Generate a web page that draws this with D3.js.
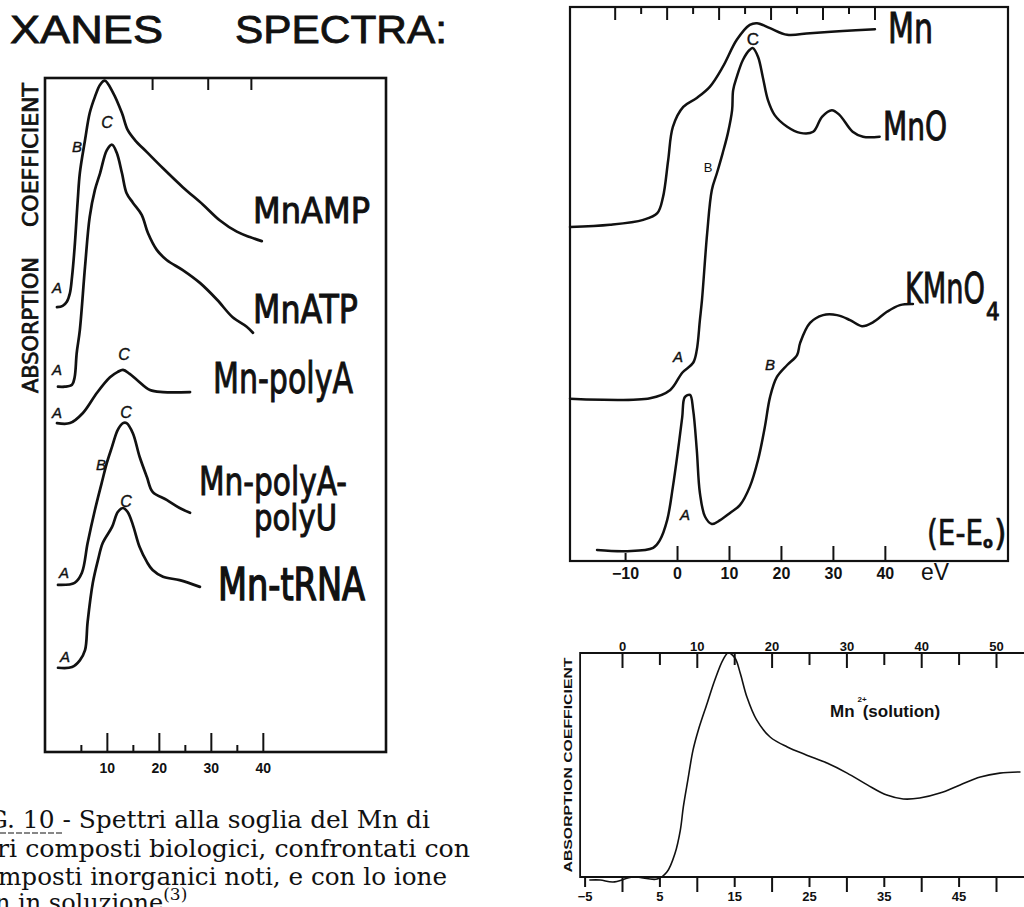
<!DOCTYPE html>
<html>
<head>
<meta charset="utf-8">
<script src="https://cdn.jsdelivr.net/npm/d3@7"></script>
<style>
  body { margin: 0; background: #fff; }
  svg { display: block; }
</style>
</head>
<body>
<svg id="chart" width="1024" height="907"></svg>
<script>
// ---- data: [energy (eV), absorption (arb. units)] ----

// left panel, biological compounds
const mnAMP = [[0.4,66.0],[1.5,66.2],[2.3,66.8],[2.9,68.1],[3.3,70.5],[3.8,74.9],[4.4,81.9],[4.8,85.9],[5.8,90.8],[6.7,94.8],[7.7,97.2],[8.7,99.0],[9.6,99.6],[11.2,97.8],[12.9,94.8],[14.0,92.3],[15.4,90.8],[17.7,89.0],[20.8,86.6],[24.6,83.8],[28.5,81.2],[31.7,78.9],[35.0,77.2],[37.5,76.4],[39.8,75.8]];
const mnATP = [[0.6,54.2],[1.9,54.2],[3.3,54.5],[3.8,55.6],[4.2,59.2],[4.8,62.6],[5.8,72.0],[6.7,79.4],[7.7,83.4],[8.7,85.9],[10.0,89.3],[11.0,90.1],[11.9,88.9],[12.9,85.9],[13.8,82.9],[15.0,81.5],[16.7,79.7],[17.9,77.0],[19.6,74.5],[21.5,73.0],[24.6,71.5],[27.9,69.6],[31.2,67.1],[34.2,64.5],[36.9,63.1],[38.1,62.2]];
const mnPolyA = [[0.4,48.8],[2.9,48.8],[5.4,50.3],[8.1,53.3],[10.6,55.6],[12.1,56.4],[13.1,56.7],[14.4,56.1],[15.8,55.2],[18.3,53.7],[20.8,53.4],[26.0,53.4]];
const mnPolyAU = [[0.6,24.8],[3.8,25.1],[5.2,26.6],[6.3,31.0],[7.7,35.9],[9.0,39.9],[10.0,42.9],[11.0,45.3],[12.1,47.8],[13.1,48.8],[13.8,48.8],[15.0,47.3],[16.3,43.8],[17.7,40.8],[18.8,38.6],[21.5,37.4],[24.0,36.2],[26.0,35.5]];
const mnTRNA = [[0.6,12.5],[3.3,12.6],[4.8,13.6],[5.8,15.1],[6.3,19.3],[7.3,25.1],[8.3,28.5],[9.2,31.0],[11.0,33.4],[12.1,35.6],[13.1,36.2],[14.0,35.6],[15.0,33.7],[16.3,30.4],[17.7,28.2],[18.8,27.0],[20.8,26.0],[24.0,25.5],[27.9,24.5]];
const leftMajor = [10, 20, 30, 40];
const leftMinor = [5, 15, 25, 35];
const leftTop = [18.7, 29.4, 37.7];

// upper right panel, inorganic references
const mnMetal = [[-20.6,60.1],[-12.9,60.5],[-6.5,61.4],[-3.8,62.6],[-2.7,65.5],[-1.7,72.2],[-0.8,78.2],[1.2,81.8],[3.8,83.4],[6.3,85.4],[8.8,89.0],[11.5,93.9],[14.0,96.6],[15.4,96.9],[17.9,96.0],[21.2,94.8],[25.6,95.1],[31.9,95.5],[38.1,95.8]];
const mnO = [[-20.6,29.1],[-5.2,29.2],[-1.3,30.7],[1.0,33.8],[3.1,35.6],[3.8,37.9],[4.4,43.3],[4.8,46.9],[5.8,59.0],[6.7,66.8],[7.7,69.9],[8.8,73.5],[9.8,77.1],[10.6,81.2],[10.8,84.8],[11.5,87.2],[12.7,90.3],[14.0,92.1],[14.6,92.4],[15.6,90.8],[16.5,87.2],[17.5,83.0],[18.8,80.3],[21.2,78.2],[23.7,77.1],[26.2,77.3],[27.9,80.0],[29.8,81.2],[31.3,80.3],[33.8,77.3],[35.8,76.4],[39.0,76.4]];
const kMnO4 = [[-15.4,1.8],[-9.6,1.6],[-4.6,2.2],[-3.3,3.6],[-1.9,7.2],[-0.8,13.2],[0.2,19.9],[1.0,25.8],[1.5,29.4],[2.5,29.8],[3.1,27.1],[3.8,19.9],[4.4,12.1],[5.4,7.8],[6.7,6.5],[8.3,7.2],[10.2,8.5],[12.1,9.9],[14.0,13.2],[15.6,18.1],[16.9,24.0],[17.9,29.4],[19.2,33.0],[21.2,35.2],[23.1,37.0],[23.7,39.2],[25.6,42.8],[28.1,44.2],[30.8,44.2],[33.3,43.3],[35.6,42.2],[37.7,42.9],[40.4,44.8],[42.9,46.0],[45.4,46.2]];
const refMajor = [-10, 0, 10, 20, 30, 40];
const refTopMajor = [-12, -2, 8, 18, 28, 38];
const refTopMinor = [-7, 3, 13, 23, 33];

// lower right panel, Mn2+ in solution
const mnSolution = [[-4.3,0],[-2.9,0],[-1.2,-0.9],[1.5,1.3],[4.7,0.4],[6.0,3.5],[7.1,11.9],[7.8,22.0],[8.2,32.2],[8.8,44.0],[9.5,57.3],[10.2,66.0],[11.4,78.0],[12.4,88.0],[13.5,97.0],[14.2,100],[15.1,97.8],[15.8,91.2],[16.7,80.6],[18.0,70.5],[19.8,63.0],[22.1,58.6],[24.7,55.0],[27.4,51.5],[30.1,47.1],[32.8,41.9],[35.4,37.4],[37.6,35.7],[39.8,36.1],[42.5,38.3],[45.2,41.9],[47.9,45.4],[50.5,47.1],[53.2,47.6]];
const solTopMajor = [0, 10, 20, 30, 40, 50];
const solTopMinor = [5, 15, 25, 35, 45];
const solBottomLabels = [-5, 5, 15, 25, 35, 45];

const captionLines = [
  "G. 10 - Spettri alla soglia del Mn di",
  "ri composti biologici, confrontati con",
  "mposti inorganici noti, e con lo ione"
];

// ---- drawing ----
const INK = "#111";
const NARROW = "'Liberation Sans Narrow','DejaVu Sans Condensed','Liberation Sans',sans-serif";
const SANS = "'Liberation Sans','DejaVu Sans',sans-serif";
const SERIF = "'DejaVu Serif','Liberation Serif',serif";

const svg = d3.select("#chart");

function txt(x, y, s, size, opts = {}) {
  const t = svg.append("text")
    .attr("x", x).attr("y", y)
    .attr("font-family", opts.family || SANS)
    .attr("font-size", size)
    .attr("font-weight", opts.weight || "normal")
    .attr("font-style", opts.style || "normal")
    .attr("text-anchor", opts.anchor || "start")
    .attr("fill", INK)
    .text(s);
  if (opts.len) t.attr("textLength", opts.len).attr("lengthAdjust", "spacingAndGlyphs");
  if (opts.rotate) t.attr("transform", `rotate(${opts.rotate},${x},${y})`);
  if (opts.thick) t.attr("stroke", INK).attr("stroke-width", opts.thick);
  return t;
}

function drawAxis(g, fontSize) {
  g.select(".domain").remove();
  g.selectAll("line").attr("stroke", INK).attr("stroke-width", 2);
  g.selectAll("text")
    .attr("font-family", SANS)
    .attr("font-weight", "bold")
    .attr("font-size", fontSize)
    .attr("fill", INK);
}

function curve(data, x, y, width) {
  const line = d3.line()
    .x(d => x(d[0]))
    .y(d => y(d[1]))
    .curve(d3.curveCatmullRom.alpha(0.5));
  svg.append("path")
    .datum(data)
    .attr("d", line)
    .attr("fill", "none")
    .attr("stroke", INK)
    .attr("stroke-width", width)
    .attr("stroke-linejoin", "round")
    .attr("stroke-linecap", "round");
}

const minus = d => d < 0 ? "\u2212" + Math.abs(d) : String(d);

// title
txt(10, 43, "XANES", 39, { len: 153, thick: 0.8 });
txt(235, 43, "SPECTRA:", 39, { len: 212, thick: 0.8 });

// ---------- left panel ----------
const xL = d3.scaleLinear().domain([-1.9, 63.5]).range([45, 385]);
const yL = d3.scaleLinear().domain([0, 100]).range([752, 78]);

svg.append("rect").attr("x", 45).attr("y", 78).attr("width", 341).attr("height", 674)
  .attr("fill", "none").attr("stroke", INK).attr("stroke-width", 2.6);

svg.append("g").attr("transform", "translate(0,752)")
  .call(d3.axisBottom(xL).tickValues(leftMajor).tickSize(-19).tickPadding(11).tickFormat(d3.format("d")))
  .call(g => drawAxis(g, 14));
svg.append("g").attr("transform", "translate(0,752)")
  .call(d3.axisBottom(xL).tickValues(leftMinor).tickSize(-7).tickFormat(""))
  .call(g => drawAxis(g, 14));
svg.append("g").attr("transform", "translate(0,78)")
  .call(d3.axisTop(xL).tickValues(leftTop).tickSize(-12).tickFormat(""))
  .call(g => drawAxis(g, 14));

txt(38, 155, "COEFFICIENT", 21, { anchor: "middle", rotate: -90, len: 144, family: NARROW, thick: 0.7 });
txt(38, 325, "ABSORPTION", 21, { anchor: "middle", rotate: -90, len: 136, family: NARROW, thick: 0.7 });

[mnAMP, mnATP, mnPolyA, mnPolyAU, mnTRNA].forEach(s => curve(s, xL, yL, 2.7));

const lab = { family: NARROW, thick: 0.9 };
txt(253, 223, "MnAMP", 36, { ...lab, len: 117 });
txt(253, 323, "MnATP", 39, { ...lab, len: 105 });
txt(213, 393, "Mn-polyA", 42, { ...lab, len: 140 });
txt(199, 495, "Mn-polyA-", 39, { ...lab, len: 148 });
txt(254, 530, "polyU", 35, { ...lab, len: 83 });
txt(218, 600, "Mn-tRNA", 45, { ...lab, len: 147, thick: 1.4 });

const it = { anchor: "middle", style: "italic", thick: 0.4 };
txt(57, 293, "A", 15, it); txt(77, 152, "B", 15, it); txt(107, 128, "C", 16, it);
txt(57, 375, "A", 15, it);
txt(124, 360, "C", 16, it); txt(57, 418, "A", 15, it);
txt(126, 418, "C", 16, it); txt(101, 470, "B", 15, it); txt(64, 578, "A", 15, it);
txt(126, 507, "C", 16, it); txt(65, 662, "A", 15, it);

// ---------- upper right panel ----------
const xR = d3.scaleLinear().domain([-20.6, 63.7]).range([570, 1008]);
const yR = d3.scaleLinear().domain([0, 100]).range([560, 6]);

svg.append("rect").attr("x", 570).attr("y", 7).attr("width", 438).attr("height", 554)
  .attr("fill", "none").attr("stroke", INK).attr("stroke-width", 2.2);

svg.append("g").attr("transform", "translate(0,561)")
  .call(d3.axisBottom(xR).tickValues(refMajor).tickSize(-15).tickPadding(7).tickFormat(minus))
  .call(g => drawAxis(g, 16))
  .call(g => g.selectAll(".tick").filter(d => d < 0).select("line").attr("y2", -8));
svg.append("g").attr("transform", "translate(0,7)")
  .call(d3.axisTop(xR).tickValues(refTopMajor).tickSize(-13).tickFormat(""))
  .call(g => drawAxis(g, 14));
svg.append("g").attr("transform", "translate(0,7)")
  .call(d3.axisTop(xR).tickValues(refTopMinor).tickSize(-7).tickFormat(""))
  .call(g => drawAxis(g, 14));

[mnMetal, mnO, kMnO4].forEach(s => curve(s, xR, yR, 2.5));

txt(888, 43, "Mn", 42, { ...lab, len: 45 });
txt(883, 140, "MnO", 39, { ...lab, len: 64 });
const kt = svg.append("text").attr("x", 905).attr("y", 303)
  .attr("font-family", NARROW).attr("fill", INK).attr("stroke", INK).attr("stroke-width", 0.9);
kt.append("tspan").attr("font-size", 43).attr("textLength", 80)
  .attr("lengthAdjust", "spacingAndGlyphs").text("KMnO");
kt.append("tspan").attr("font-size", 24).attr("dy", 17).attr("dx", 1).text("4");
const et = svg.append("text").attr("x", 927).attr("y", 545)
  .attr("font-family", NARROW).attr("font-size", 36).attr("fill", INK)
  .attr("stroke", INK).attr("stroke-width", 0.6);
et.append("tspan").attr("textLength", 56).attr("lengthAdjust", "spacingAndGlyphs").text("(E-E");
et.append("tspan").attr("font-size", 16).attr("font-weight", "bold").attr("dy", 3).text("o");
et.append("tspan").attr("dy", -3).attr("dx", 1).text(")");
txt(921, 580, "eV", 24, { len: 28 });

txt(753, 45, "C", 17, { anchor: "middle", thick: 0.4 });
txt(708, 172, "B", 13, { anchor: "middle" });
txt(678, 362, "A", 15, it);
txt(770, 370, "B", 15, it);
txt(685, 520, "A", 15, it);

// ---------- lower right panel ----------
const xS = d3.scaleLinear().domain([0, 50]).range([622, 996]);
const yS = d3.scaleLinear().domain([0, 100]).range([880, 653]);

svg.append("path")
  .attr("d", `M1024,653 H${xS(-5.6)} V877 H1024`)
  .attr("fill", "none").attr("stroke", INK).attr("stroke-width", 1.8);

svg.append("g").attr("transform", "translate(0,653)")
  .call(d3.axisTop(xS).tickValues(solTopMajor).tickSize(-15).tickPadding(2).tickFormat(d3.format("d")))
  .call(g => drawAxis(g, 13));
svg.append("g").attr("transform", "translate(0,653)")
  .call(d3.axisTop(xS).tickValues(solTopMinor).tickSize(-12).tickFormat(""))
  .call(g => drawAxis(g, 13));
svg.append("g").attr("transform", "translate(0,877)")
  .call(d3.axisBottom(xS).tickValues(solTopMajor).tickSize(15).tickFormat(""))
  .call(g => drawAxis(g, 13));
svg.append("g").attr("transform", "translate(0,877)")
  .call(d3.axisBottom(xS).tickValues(solBottomLabels).tickSize(10).tickPadding(5).tickFormat(minus))
  .call(g => drawAxis(g, 13));

curve(mnSolution, xS, yS, 1.6);

txt(572, 765, "ABSORPTION COEFFICIENT", 10, { anchor: "middle", rotate: -90, weight: "bold", len: 215 });
const st = svg.append("text").attr("x", 830).attr("y", 717)
  .attr("font-family", SANS).attr("font-weight", "bold").attr("font-size", 17).attr("fill", INK);
st.append("tspan").text("Mn");
st.append("tspan").attr("font-size", 8).attr("dy", -15).attr("dx", 3).text("2+");
st.append("tspan").attr("dy", 15).attr("dx", -4).text("(solution)");

// ---------- caption ----------
const capY = [828, 857, 885];
const capX = [-12, -3, -2];
const capLen = [442, 473, 449];
captionLines.forEach((s, i) => txt(capX[i], capY[i], s, 24, { family: SERIF, len: capLen[i] }));
const lastLine = svg.append("text").attr("x", -5).attr("y", 911)
  .attr("font-family", SERIF).attr("font-size", 24).attr("fill", INK);
lastLine.append("tspan").text("n in soluzione");
lastLine.append("tspan").attr("font-size", 17).attr("dy", -11).text("(3)");
lastLine.append("tspan").attr("dy", 11).text(".");
svg.append("line").attr("x1", 0).attr("x2", 63).attr("y1", 833).attr("y2", 833)
  .attr("stroke", INK).attr("stroke-width", 1.2).attr("stroke-dasharray", "6,2");
</script>
</body>
</html>
